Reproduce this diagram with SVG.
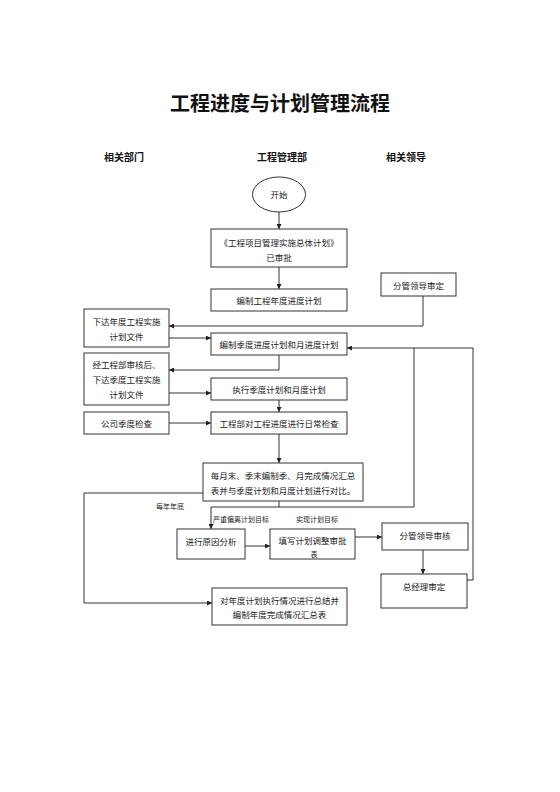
<svg xmlns="http://www.w3.org/2000/svg" width="560" height="792" viewBox="0 0 560 792">
<defs>
<marker id="arr" viewBox="0 0 10 10" refX="10" refY="5" markerWidth="5" markerHeight="5" orient="auto" markerUnits="userSpaceOnUse">
<path d="M0,0 L10,5 L0,10 z" fill="#222"/>
</marker>
<style>
.box{fill:#fff;stroke:#333;stroke-width:1}
.t{font-family:"Noto Sans CJK SC","Noto Sans",sans-serif;font-size:8.5px;fill:#222;text-anchor:middle;dominant-baseline:central}
.s{font-family:"Noto Sans CJK SC","Noto Sans",sans-serif;font-size:7px;fill:#222;text-anchor:middle;dominant-baseline:central}
.h{font-family:"Noto Sans CJK SC","Noto Sans",sans-serif;font-size:10px;font-weight:bold;fill:#111;text-anchor:middle;dominant-baseline:central}
.ttl{font-family:"Noto Sans CJK SC","Noto Sans",sans-serif;font-size:20px;font-weight:bold;fill:#111;text-anchor:middle;dominant-baseline:central}
.c{fill:none;stroke:#333;stroke-width:1}
.ca{fill:none;stroke:#333;stroke-width:1;marker-end:url(#arr)}
</style>
</defs>
<rect width="560" height="792" fill="#fff"/>
<text class="ttl" x="280" y="102">工程进度与计划管理流程</text>
<text class="h" x="124" y="156">相关部门</text>
<text class="h" x="282" y="156">工程管理部</text>
<text class="h" x="406" y="156">相关领导</text>

<g id="connectors">
<path class="ca" d="M279,212 V229"/>
<path class="ca" d="M279,267 V289"/>
<path class="ca" d="M423,296 V326 H169"/>
<path class="ca" d="M169,338 H211"/>
<path class="ca" d="M279,355 V370 H169"/>
<path class="ca" d="M169,393 H211"/>
<path class="ca" d="M279,400 V412"/>
<path class="ca" d="M169,423 H211"/>
<path class="ca" d="M279,434 V463"/>
<path class="c" d="M279,501 V507"/>
<path class="c" d="M211,507 H414 V348"/>
<path class="ca" d="M211,507 V529"/>
<path class="ca" d="M467,580 H473 V348 H347"/>
<path class="ca" d="M203,493 H84 V603 H212"/>
<path class="ca" d="M245,546 H270"/>
<path class="ca" d="M355,537 H382"/>
<path class="ca" d="M423,550 V574"/>
<text class="s" x="170" y="506">每年年底</text>
<text class="s" x="241" y="519">严重偏离计划目标</text>
<text class="s" x="317" y="519">实现计划目标</text>
</g>

<g id="start"><ellipse cx="279" cy="194.5" rx="26.5" ry="17.5" fill="#fff" stroke="#333"/><text class="t" x="279" y="194">开始</text></g>
<g id="n1"><rect class="box" x="211" y="229" width="136" height="38"/><text class="t" x="279" y="242">《工程项目管理实施总体计划》</text><text class="t" x="279" y="257">已审批</text></g>
<g id="n2"><rect class="box" x="211" y="289" width="136" height="22"/><text class="t" x="279" y="300">编制工程年度进度计划</text></g>
<g id="n3"><rect class="box" x="381" y="273" width="75" height="23"/><text class="t" x="418.5" y="284.5">分管领导审定</text></g>
<g id="n4"><rect class="box" x="84" y="309" width="85" height="38"/><text class="t" x="126.5" y="320.5">下达年度工程实施</text><text class="t" x="126.5" y="336">计划文件</text></g>
<g id="n5"><rect class="box" x="211" y="333" width="136" height="22"/><text class="t" x="279" y="344">编制季度进度计划和月进度计划</text></g>
<g id="n6"><rect class="box" x="84" y="353" width="85" height="52"/><text class="t" x="126.5" y="364">经工程部审核后、</text><text class="t" x="126.5" y="379">下达季度工程实施</text><text class="t" x="126.5" y="394">计划文件</text></g>
<g id="n7"><rect class="box" x="211" y="378" width="136" height="22"/><text class="t" x="279" y="389">执行季度计划和月度计划</text></g>
<g id="n8"><rect class="box" x="84" y="412" width="85" height="22"/><text class="t" x="126.5" y="423">公司季度检查</text></g>
<g id="n9"><rect class="box" x="211" y="412" width="136" height="22"/><text class="t" x="279" y="423">工程部对工程进度进行日常检查</text></g>
<g id="n10"><rect class="box" x="203" y="463" width="160" height="38"/><text class="t" x="283" y="474.5">每月末、季末编制季、月完成情况汇总</text><text class="t" x="283" y="490">表并与季度计划和月度计划进行对比。</text></g>
<g id="n11"><rect class="box" x="177" y="529" width="68" height="30"/><text class="t" x="211" y="541">进行原因分析</text></g>
<g id="n12"><rect class="box" x="270" y="529" width="85" height="30"/><text class="t" x="312.5" y="540">填写计划调整审批</text><text class="s" x="314" y="554" font-size="5.5px">表</text></g>
<g id="n13"><rect class="box" x="382" y="523" width="86" height="27"/><text class="t" x="425" y="535">分管领导审核</text></g>
<g id="n14"><rect class="box" x="381" y="574" width="86" height="34"/><text class="t" x="424" y="586">总经理审定</text></g>
<g id="n15"><rect class="box" x="212" y="588" width="135" height="37"/><text class="t" x="279.5" y="600">对年度计划执行情况进行总结并</text><text class="t" x="279.5" y="614">编制年度完成情况汇总表</text></g>
</svg>
